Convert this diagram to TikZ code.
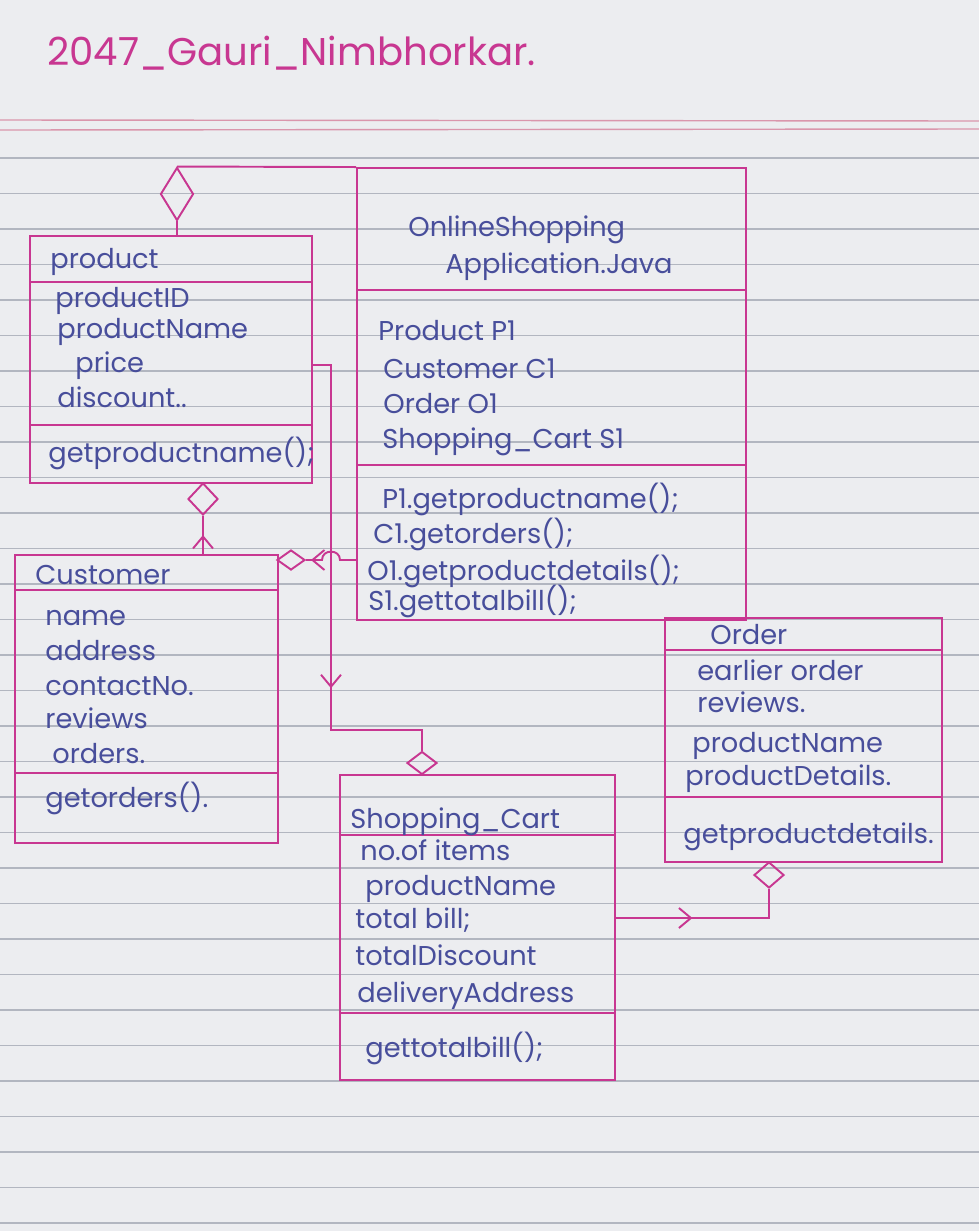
\documentclass[tikz,border=0pt]{standalone}
\usepackage{fontspec}
\setmainfont{Poppins}
\usetikzlibrary{arrows.meta,positioning,fit,shapes.geometric,decorations.markings}
\definecolor{pen}{RGB}{200,55,145}
\definecolor{ink}{RGB}{72,78,155}
\definecolor{paper}{RGB}{236,237,240}
\definecolor{ruling}{RGB}{178,182,192}
\definecolor{margin}{RGB}{218,150,172}

\begin{document}
\begin{tikzpicture}[
  x=0.02cm, y=-0.02cm,
  font=\fontsize{15.5}{18}\selectfont,
  cls/.style={draw=pen, line width=1.1pt, inner sep=0pt},
  sep/.style={draw=pen, line width=1.1pt},
  txt/.style={anchor=base west, inner sep=0pt, text=ink},
  conn/.style={draw=pen, line width=1.1pt},
  agg/.style 2 args={diamond, draw=pen, line width=1.1pt, inner sep=0pt, minimum width=#1, minimum height=#2},
  midarrow/.style={postaction={decorate}, decoration={markings,
    mark=at position #1 with {\arrow[pen, line width=1.1pt]{Straight Barb[length=2.4mm, width=4mm]}}}}
]

% paper
\useasboundingbox (0,0) rectangle (979,1231);
\fill[paper] (0,0) rectangle (979,1231);
\foreach \i in {0,...,30}
  \draw[ruling, line width=0.6pt] (0,158+35.5*\i) -- (979,158+35.5*\i);
\draw[margin, line width=0.8pt] (0,120) -- (979,121);
\draw[margin, line width=0.8pt] (0,130) -- (979,129);

\node[anchor=base west, inner sep=0pt, text=pen, font=\fontsize{22}{26}\selectfont] (title) at (47,65) {2047\_Gauri\_Nimbhorkar.};

% OnlineShopping Application
\node[cls, fit={(357,168) (746,620)}] (app) {};
\draw[sep] (app.west |- 0,290) -- (app.east |- 0,290);
\draw[sep] (app.west |- 0,465) -- (app.east |- 0,465);
\node[txt] (app-n1) at (408,236) {OnlineShopping};
\node[txt] (app-n2) at (445,273) {Application.Java};
\node[txt] (app-a1) at (378,340) {Product P1};
\node[txt] (app-a2) at (383,378) {Customer C1};
\node[txt] (app-a3) at (383,413) {Order O1};
\node[txt] (app-a4) at (382,448) {Shopping\_Cart S1};
\node[txt] (app-m1) at (382,508) {P1.getproductname();};
\node[txt] (app-m2) at (373,543) {C1.getorders();};
\node[txt] (app-m3) at (367,580) {O1.getproductdetails();};
\node[txt] (app-m4) at (368,610) {S1.gettotalbill();};

% product
\node[cls, fit={(30,236) (312,483)}] (prod) {};
\draw[sep] (prod.west |- 0,282) -- (prod.east |- 0,282);
\draw[sep] (prod.west |- 0,425) -- (prod.east |- 0,425);
\node[txt] (prod-n) at (50,268) {product};
\node[txt] (prod-a1) at (55,307) {productID};
\node[txt] (prod-a2) at (57,338) {productName};
\node[txt] (prod-a3) at (75,372) {price};
\node[txt] (prod-a4) at (57,407) {discount..};
\node[txt] (prod-m1) at (48,462) {getproductname();};

% Customer
\node[cls, fit={(15,555) (278,843)}] (cust) {};
\draw[sep] (cust.west |- 0,590) -- (cust.east |- 0,590);
\draw[sep] (cust.west |- 0,773) -- (cust.east |- 0,773);
\node[txt] (cust-n) at (35,584) {Customer};
\node[txt] (cust-a1) at (45,625) {name};
\node[txt] (cust-a2) at (45,660) {address};
\node[txt] (cust-a3) at (45,695) {contactNo.};
\node[txt] (cust-a4) at (45,728) {reviews};
\node[txt] (cust-a5) at (52,763) {orders.};
\node[txt] (cust-m1) at (45,807) {getorders().};

% Shopping_Cart
\node[cls, fit={(340,775) (615,1080)}] (cart) {};
\draw[sep] (cart.west |- 0,835) -- (cart.east |- 0,835);
\draw[sep] (cart.west |- 0,1013) -- (cart.east |- 0,1013);
\node[txt] (cart-n) at (350,828) {Shopping\_Cart};
\node[txt] (cart-a1) at (360,860) {no.of items};
\node[txt] (cart-a2) at (365,895) {productName};
\node[txt] (cart-a3) at (355,928) {total bill;};
\node[txt] (cart-a4) at (355,965) {totalDiscount};
\node[txt] (cart-a5) at (357,1002) {deliveryAddress};
\node[txt] (cart-m1) at (365,1057) {gettotalbill();};

% Order
\node[cls, fit={(665,618) (942,862)}] (ord) {};
\draw[sep] (ord.west |- 0,650) -- (ord.east |- 0,650);
\draw[sep] (ord.west |- 0,797) -- (ord.east |- 0,797);
\node[txt] (ord-n) at (710,644) {Order};
\node[txt] (ord-a1) at (697,680) {earlier order};
\node[txt] (ord-a2) at (697,712) {reviews.};
\node[txt] (ord-a3) at (692,752) {productName};
\node[txt] (ord-a4) at (685,785) {productDetails.};
\node[txt] (ord-m1) at (683,843) {getproductdetails.};

% aggregation diamonds
\node[agg={6.6mm}{10.6mm}] (dP) at (177,194) {};
\node[agg={6mm}{6.4mm}] (dC) at (203,499) {};
\node[agg={5.6mm}{4mm}] (dA) at (291,560) {};
\node[agg={6mm}{4.6mm}] (dS) at (422,763) {};
\node[agg={6mm}{5.2mm}] (dO) at (769,875) {};

% connectors
\draw[conn] (prod.north -| dP) -- (dP.south);
\draw[conn] (dP.north) -- (app.north west);
\draw[conn, midarrow=0.5] (cust.north -| dC) -- (dC.south);
\draw[conn, midarrow=0.69] (prod.east |- 0,365) -| (331,730) -| (dS.north);
\draw[conn, midarrow=-1mm] (app.west |- 0,560) -- (340,560) to[out=90,in=90,looseness=1.6] (322,560) -- (dA.east);
\draw[conn, midarrow=0.42] (cart.east |- 0,918) -| (dO.south);

\end{tikzpicture}
\end{document}
